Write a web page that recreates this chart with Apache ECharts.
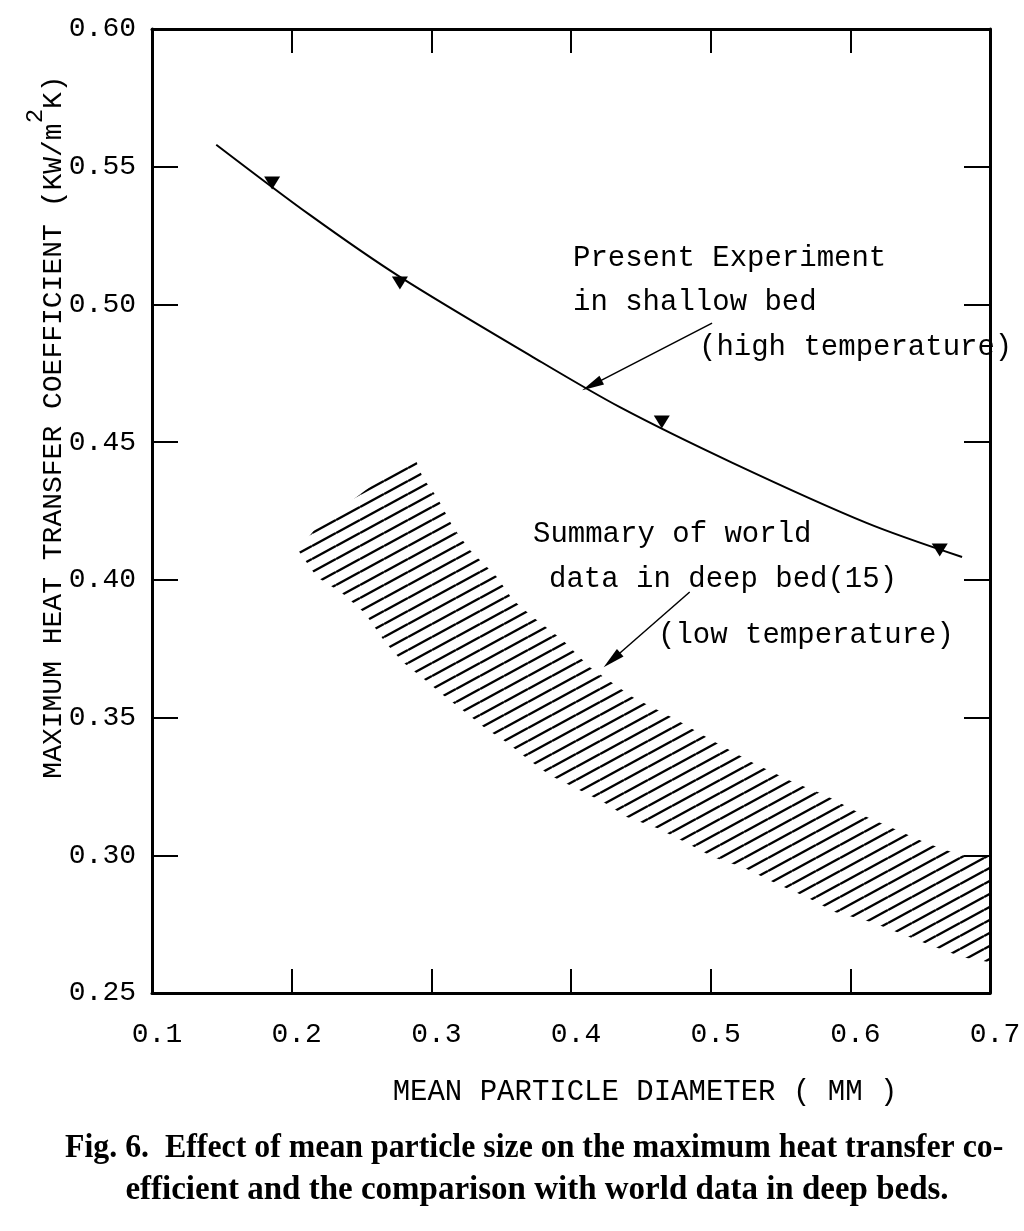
<!DOCTYPE html>
<html>
<head>
<meta charset="utf-8">
<script src="https://cdn.jsdelivr.net/npm/echarts@6/dist/echarts.min.js"></script>
<style>
  html, body { margin: 0; padding: 0; background: #fff; overflow: hidden; }
  #chart { width: 1024px; height: 1231px; }
</style>
</head>
<body>
<div id="chart"></div>
<script>
// present experiment curve (shallow bed, high temperature)
const curveX = [0.146, 0.213, 0.2775, 0.3727, 0.435, 0.516, 0.612, 0.680];
const curveY = [0.558, 0.5325, 0.510, 0.4809, 0.4627, 0.4424, 0.4206, 0.4083];

// measured points (triangles)
const markerX = [0.186, 0.2775, 0.465, 0.664];
const markerY = [0.5441, 0.5078, 0.4573, 0.4108];

// world data band (deep bed) - upper and lower edges
const bandUpperX = [0.2045, 0.218, 0.2797, 0.2883, 0.294, 0.304, 0.3155, 0.3276, 0.347, 0.3584, 0.3727,
  0.3942, 0.4135, 0.4443, 0.4758, 0.503, 0.5295, 0.5588, 0.5818, 0.6118, 0.6333, 0.6548, 0.6784, 0.700];
const bandUpperY = [0.4108, 0.4192, 0.4428, 0.4442, 0.437, 0.4301, 0.4192, 0.4108, 0.401, 0.3927, 0.3865,
  0.3781, 0.3683, 0.3574, 0.3491, 0.3411, 0.3338, 0.3266, 0.3219, 0.3139, 0.3092, 0.3044, 0.3001, 0.2993];
const bandLowerX = [0.2045, 0.218, 0.236, 0.2525, 0.2668, 0.2797, 0.294, 0.3083, 0.3241, 0.3384, 0.3548,
  0.3692, 0.3849, 0.4049, 0.4243, 0.44, 0.4615, 0.4815, 0.5016, 0.5245, 0.546, 0.5689, 0.5889, 0.6154,
  0.6354, 0.6569, 0.6805, 0.700];
const bandLowerY = [0.4108, 0.401, 0.3952, 0.3879, 0.3774, 0.3701, 0.3643, 0.3582, 0.352, 0.3462, 0.3407,
  0.3349, 0.3291, 0.324, 0.319, 0.3139, 0.3099, 0.3048, 0.2994, 0.2954, 0.2899, 0.2848, 0.2794, 0.2757,
  0.2717, 0.2674, 0.263, 0.2612];

// arrows [fromX, fromY, toX, toY]
const arrowHigh = [0.501, 0.4932, 0.415, 0.4707];
const arrowLow = [0.485, 0.3956, 0.4293, 0.3709];

const mono = '"Liberation Mono", "DejaVu Sans Mono", monospace';
const serif = '"Liberation Serif", "Times New Roman", serif';

// hatch pattern for the band
const hatch = document.createElement('canvas');
hatch.width = 24;
hatch.height = 13;
const ctx = hatch.getContext('2d');
ctx.strokeStyle = '#000';
ctx.lineWidth = 2.4;
for (let n = -1; n <= 1; n++) {
  ctx.beginPath();
  ctx.moveTo(0, 13 + n * 13);
  ctx.lineTo(24, n * 13);
  ctx.stroke();
}

const chart = echarts.init(document.getElementById('chart'));

const xAxisBase = {
  type: 'value',
  min: 0.1,
  max: 0.7,
  interval: 0.1,
  splitLine: { show: false },
  axisLine: { show: true, onZero: false, lineStyle: { color: '#000', width: 3 } },
  axisTick: { show: true, inside: true, length: 24, lineStyle: { color: '#000', width: 2 } }
};
const yAxisBase = {
  type: 'value',
  min: 0.25,
  max: 0.60,
  interval: 0.05,
  splitLine: { show: false },
  axisLine: { show: true, onZero: false, lineStyle: { color: '#000', width: 3 } },
  axisTick: { show: true, inside: true, length: 26, lineStyle: { color: '#000', width: 2 } }
};

const annot = (text, left, top) => ({
  type: 'text', left, top,
  style: { text, font: '29px ' + mono, fill: '#000' }
});

const option = {
  backgroundColor: '#fff',
  animation: false,
  grid: { left: 152, top: 29, right: 34, bottom: 238, outerBoundsMode: 'none' },
  xAxis: [
    Object.assign({}, xAxisBase, {
      position: 'bottom',
      axisLabel: {
        color: '#000', fontFamily: mono, fontSize: 28, margin: 28,
        padding: [0, 0, 0, 10],
        formatter: v => v.toFixed(1)
      }
    }),
    Object.assign({}, xAxisBase, { position: 'top', axisLabel: { show: false } })
  ],
  yAxis: [
    Object.assign({}, yAxisBase, {
      position: 'left',
      axisLabel: {
        color: '#000', fontFamily: mono, fontSize: 28, margin: 16,
        formatter: v => v.toFixed(2)
      }
    }),
    Object.assign({}, yAxisBase, { position: 'right', axisLabel: { show: false } })
  ],
  series: [
    {
      type: 'custom',
      name: 'world data',
      silent: true,
      data: [[0]],
      renderItem: (params, api) => {
        const pts = [];
        bandUpperX.forEach((x, i) => pts.push(api.coord([x, bandUpperY[i]])));
        for (let i = bandLowerX.length - 1; i >= 0; i--) {
          pts.push(api.coord([bandLowerX[i], bandLowerY[i]]));
        }
        return {
          type: 'polygon',
          shape: { points: pts },
          style: { fill: { image: hatch, repeat: 'repeat' }, stroke: null }
        };
      }
    },
    {
      type: 'line',
      name: 'present experiment',
      smooth: 0.3,
      symbol: 'none',
      lineStyle: { color: '#000', width: 2 },
      data: curveX.map((x, i) => [x, curveY[i]]),
      markLine: {
        silent: true,
        symbol: ['none', 'triangle'],
        symbolSize: [10, 22],
        label: { show: false },
        lineStyle: { color: '#000', width: 1.5, type: 'solid' },
        data: [
          [{ coord: [arrowHigh[0], arrowHigh[1]] }, { coord: [arrowHigh[2], arrowHigh[3]] }],
          [{ coord: [arrowLow[0], arrowLow[1]] }, { coord: [arrowLow[2], arrowLow[3]] }]
        ]
      }
    },
    {
      type: 'scatter',
      name: 'points',
      symbol: 'triangle',
      symbolRotate: 180,
      symbolSize: [16, 13],
      itemStyle: { color: '#000', opacity: 1 },
      data: markerX.map((x, i) => [x, markerY[i]])
    }
  ],
  graphic: [
    annot('Present Experiment', 573, 244),
    annot('in shallow bed', 573, 288),
    annot('(high temperature)', 699, 333),
    annot('Summary of world', 533, 520),
    annot('data in deep bed(15)', 549, 565),
    annot('(low temperature)', 658, 621),
    {
      type: 'text', x: 46, y: 427, rotation: Math.PI / 2,
      style: {
        text: '{a|MAXIMUM HEAT TRANSFER COEFFICIENT (KW/m}{s|2}{a|K)}',
        align: 'center', verticalAlign: 'middle', fill: '#000',
        rich: {
          a: { fontFamily: mono, fontSize: 28, lineHeight: 44, verticalAlign: 'bottom' },
          s: { fontFamily: mono, fontSize: 24, lineHeight: 44, verticalAlign: 'top' }
        }
      }
    },
    {
      type: 'text', x: 645, y: 1092,
      style: { text: 'MEAN PARTICLE DIAMETER ( MM )', font: '29px ' + mono, fill: '#000', align: 'center', verticalAlign: 'middle' }
    },
    {
      type: 'text', x: 65, y: 1148, scaleX: 0.965,
      style: {
        text: 'Fig. 6.  Effect of mean particle size on the maximum heat transfer co-',
        font: 'bold 33px ' + serif, fill: '#000', verticalAlign: 'middle'
      }
    },
    {
      type: 'text', x: 537, y: 1190,
      style: {
        text: 'efficient and the comparison with world data in deep beds.',
        font: 'bold 33px ' + serif, fill: '#000', align: 'center', verticalAlign: 'middle'
      }
    }
  ]
};

chart.setOption(option);
</script>
</body>
</html>
